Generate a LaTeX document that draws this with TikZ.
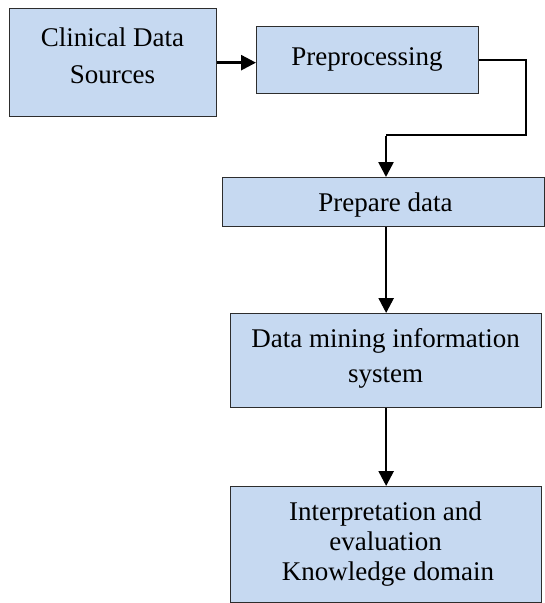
\documentclass[tikz,border=0pt]{standalone}
\usepackage{fontspec}
\setmainfont{Liberation Serif}
\usetikzlibrary{arrows.meta}
\definecolor{boxfill}{RGB}{198,217,241}
\definecolor{boxline}{RGB}{45,45,45}
\tikzset{
  box/.style={draw=boxline, line width=1.3pt, fill=boxfill, inner sep=0pt, anchor=north west},
  txt/.style={anchor=base, inner sep=0pt, font=\fontsize{27}{32}\selectfont},
  conn/.style={draw=black, line width=2.6pt, -{Triangle[length=15pt,width=15pt]}},
  link/.style={draw=black, line width=2.6pt}
}
\begin{document}
\begin{tikzpicture}[x=1pt,y=-1pt]
\useasboundingbox (0,0) rectangle (545,603);
% boxes
\node[box, minimum width=207pt, minimum height=108pt] (clin) at (9,8) {};
\node[box, minimum width=222pt, minimum height=67pt] (pre) at (256,26) {};
\node[box, minimum width=322pt, minimum height=49pt] (prep) at (222,177) {};
\node[box, minimum width=311pt, minimum height=94pt] (mine) at (230,313) {};
\node[box, minimum width=311pt, minimum height=116pt] (interp) at (230,486) {};
% texts
\node[txt] (clinA) at (112.5,46) {Clinical Data};
\node[txt] (clinB) at (112.5,83) {Sources};
\node[txt] (preA) at (367,65) {Preprocessing};
\node[txt] (prepA) at (385.5,211) {Prepare data};
\node[txt] (mineA) at (385.5,347) {Data mining information};
\node[txt] (mineB) at (385.5,382) {system};
\node[txt] (intA) at (385.5,520) {Interpretation and};
\node[txt] (intB) at (385.5,550) {evaluation};
\node[txt] (intC) at (388,580) {Knowledge domain};
% connectors
\coordinate (c1) at (526,60);
\coordinate (c2) at (526,135);
\coordinate (c3) at (386,135);
\draw[conn] (clin.east) -- (clin.east -| pre.west);
\draw[link, line join=miter] (pre.east |- c1) -- (c1) -- (c2) -- (c3);
\draw[conn] ([yshift=-1.3pt]c3) -- (c3 |- prep.north);
\draw[conn] (mine.north |- prep.south) -- (mine.north);
\draw[conn] (mine.south) -- (interp.north);
\end{tikzpicture}
\end{document}
